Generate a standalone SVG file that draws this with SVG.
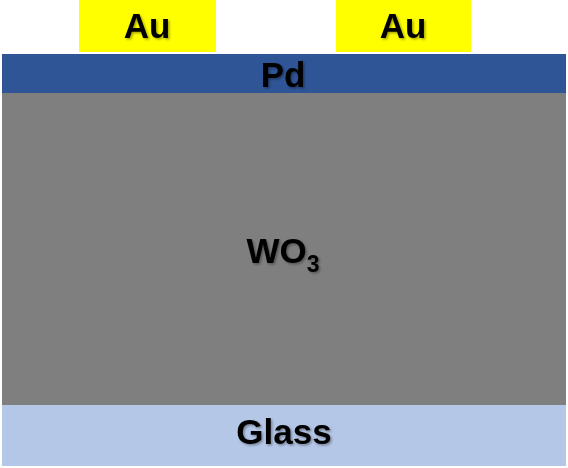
<svg xmlns="http://www.w3.org/2000/svg" width="568" height="468" viewBox="0 0 568 468">
<defs>
<style>
.t{font-family:"Liberation Sans",Arial,sans-serif;font-weight:bold;font-size:35px;fill:#000;text-anchor:middle;filter:url(#sh)}
</style>
<filter id="sh" x="-20%" y="-20%" width="140%" height="140%">
<feDropShadow dx="1.5" dy="1.5" stdDeviation="1" flood-color="#000" flood-opacity="0.35"/>
</filter>
</defs>
<rect width="568" height="468" fill="#fff"/>
<g id="glass"><rect x="2" y="405" width="564" height="61" fill="#B4C7E7"/><text class="t" x="284" y="444">Glass</text></g>
<g id="wo3"><rect x="2" y="93" width="564" height="312" fill="#7F7F7F"/><text class="t" x="283" y="263">WO<tspan font-size="23" dy="9">3</tspan></text></g>
<g id="pd"><rect x="2" y="54" width="564" height="39" fill="#2F5597"/><text class="t" x="283" y="87">Pd</text></g>
<g id="au1"><rect x="79" y="0" width="137" height="52" fill="#FFFF00"/><text class="t" x="147" y="38">Au</text></g>
<g id="au2"><rect x="336" y="0" width="135" height="52" fill="#FFFF00"/><text class="t" x="403" y="38">Au</text></g>
<g id="connectors"/>
</svg>
